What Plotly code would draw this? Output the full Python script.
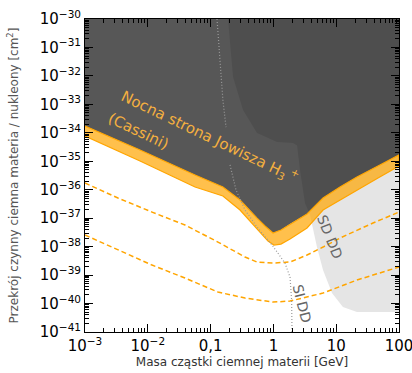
import plotly.graph_objects as go

# Jupiter night-side H3+ (Cassini) band: upper and lower edges
band_top_mass = [1e-3, 0.00752, 0.0565, 0.157, 0.294, 0.548, 0.735, 0.986, 1.32, 1.84, 3.43, 6.17, 11.5, 21.4, 46.3, 100]
band_top_sigma = [1.73e-34, 2.48e-35, 3.29e-36, 1.24e-36, 4.35e-37, 1.01e-37, 5.30e-38, 3.01e-38, 3.83e-38, 6.22e-38,
                  1.40e-37, 5.11e-37, 1.24e-36, 2.79e-36, 6.81e-36, 1.66e-35]
band_bot_mass = [1e-3, 0.00752, 0.0565, 0.157, 0.294, 0.424, 0.612, 0.820, 1.02, 1.32, 1.84, 3.43, 6.17, 11.5, 21.4, 46.3, 100]
band_bot_sigma = [7.73e-35, 1.02e-35, 1.245e-36, 6.01e-37, 1.93e-37, 7.94e-38, 3.01e-38, 1.57e-38, 1.14e-38, 1.23e-38,
                  1.85e-38, 4.51e-38, 1.93e-37, 4.35e-37, 9.75e-37, 2.58e-36, 6.81e-36]

# projected (dashed) sensitivities
dash1_mass = [1e-3, 0.00335, 0.01167, 0.0391, 0.131, 0.353, 0.548, 0.986, 1.84, 3.43, 6.17, 11.5, 38.5, 100]
dash1_sigma = [1.72e-36, 5.11e-37, 1.64e-37, 5.74e-38, 1.45e-38, 4.31e-39, 2.88e-39, 2.65e-39, 2.88e-39, 5.07e-39,
               9.68e-39, 2.00e-38, 6.76e-38, 1.64e-37]
dash2_mass = [1e-3, 0.00335, 0.01167, 0.0391, 0.131, 0.353, 0.986, 1.84, 6.17, 21.4, 100]
dash2_sigma = [2.56e-38, 7.59e-39, 2.25e-39, 7.87e-40, 2.54e-40, 1.56e-40, 1.13e-40, 1.22e-40, 2.34e-40, 6.70e-40, 1.92e-39]

# SI direct detection (dotted)
si_mass = [0.1265, 0.141, 0.157, 0.176, None, 0.204, 0.254, 0.353, 0.548, 0.951, 1.53, 1.84, 1.95, 1.98]
si_sigma = [1e-30, 3.63e-32, 1.41e-33, 1.58e-34, None, 7.41e-36, 9.77e-37, 1.95e-37, 4.90e-38, 1.15e-38, 2.63e-39,
            8.51e-40, 1.32e-40, 1e-41]

# SD direct detection excluded region boundary
sd_mass = [0.189, 0.2275, 0.328, 0.548, 1.14, 2.05, 2.38, 2.65, 3.18, 3.83, 4.94, 6.17, 8.57, 12.8, 21.4, 100, 100]
sd_sigma = [1e-30, 9.12e-33, 6.31e-34, 9.77e-35, 4.79e-35, 4.37e-35, 3.55e-35, 4.90e-36, 3.39e-37, 1.29e-37, 9.77e-39,
            1.51e-39, 2.34e-40, 7.59e-41, 5.01e-41, 5.01e-41, 1e-30]

x_ticks = [1e-3, 1e-2, 0.1, 1, 10, 100]
x_ticktext = ["10<sup>−3</sup>", "10<sup>−2</sup>", "0,1", "1", "10", "100"]
y_ticks = [10.0 ** e for e in range(-41, -29)]
y_ticktext = ["10<sup>−%d</sup>" % -e for e in range(-41, -29)]

FONT = "DejaVu Sans"
fig = go.Figure()

# SD region
fig.add_trace(go.Scatter(x=sd_mass, y=sd_sigma, fill="toself", fillcolor="#e5e5e5",
                         line=dict(width=0), mode="lines", hoverinfo="skip", showlegend=False))
# excluded dark region above the band
fig.add_trace(go.Scatter(x=band_top_mass + [100, 1e-3], y=band_top_sigma + [1e-30, 1e-30], fill="toself",
                         fillcolor="rgba(0,0,0,0.66)", line=dict(width=0), mode="lines",
                         hoverinfo="skip", showlegend=False))
# orange band
fig.add_trace(go.Scatter(x=band_bot_mass + band_top_mass[::-1], y=band_bot_sigma + band_top_sigma[::-1],
                         fill="toself", fillcolor="rgba(255,165,0,0.7)",
                         line=dict(color="#ffa500", width=1.2), mode="lines", hoverinfo="skip", showlegend=False))
# dashed projections
for mx, sy in [(dash1_mass, dash1_sigma), (dash2_mass, dash2_sigma)]:
    fig.add_trace(go.Scatter(x=mx, y=sy, mode="lines", line=dict(color="#ffa500", width=1.5, dash="5px,3px"),
                             showlegend=False, hoverinfo="skip"))
# SI dotted
fig.add_trace(go.Scatter(x=si_mass, y=si_sigma, mode="lines", connectgaps=False,
                         line=dict(color="#9a9a9a", width=1.2, dash="1px,2px"), showlegend=False, hoverinfo="skip"))

ann_color = "#f4b040"
fig.add_annotation(x=-1.010, y=-34.12, xref="x", yref="y", showarrow=False, textangle=25.6,
                   text="Nocna strona Jowisza H<sub>3</sub><sup> +</sup>",
                   font=dict(family=FONT, size=15, color=ann_color))
fig.add_annotation(x=-2.156, y=-33.94, xref="x", yref="y", showarrow=False, textangle=25.6,
                   text="(Cassini)", font=dict(family=FONT, size=15, color=ann_color))
fig.add_annotation(x=0.901, y=-37.66, xref="x", yref="y", showarrow=False, textangle=68,
                   text="SD DD", font=dict(family=FONT, size=14, color="#666666"))
fig.add_annotation(x=0.455, y=-40.02, xref="x", yref="y", showarrow=False, textangle=76,
                   text="SI DD", font=dict(family=FONT, size=14, color="#666666"))

axis_common = dict(showline=True, linecolor="black", linewidth=1, mirror="allticks", ticks="inside",
                   ticklen=8, tickwidth=1, tickcolor="black", showgrid=False, zeroline=False, automargin=False,
                   ticklabeloverflow="allow",
                   tickfont=dict(family=FONT, size=15, color="black"),
                   minor=dict(ticks="inside", ticklen=4, tickwidth=0.8, tickcolor="black", dtick="D1",
                              showgrid=False))

fig.update_xaxes(type="log", range=[-3, 2], tickmode="array", tickvals=x_ticks, ticktext=x_ticktext,
                 title=dict(text="Masa cząstki ciemnej materii [GeV]", font=dict(family=FONT, size=12, color="#333"),
                            standoff=2),
                 **axis_common)
fig.update_yaxes(type="log", range=[-41, -30], tickmode="array", tickvals=y_ticks, ticktext=y_ticktext,
                 title=dict(text="Przekrój czynny ciemna materia / nukleony [cm<sup>2</sup>]",
                            font=dict(family=FONT, size=12, color="#555"), standoff=18),
                 **axis_common)

fig.update_layout(width=412, height=373, margin=dict(l=85, r=13, t=19, b=41),
                  plot_bgcolor="white", paper_bgcolor="white", font=dict(family=FONT))

fig.write_html("out.html", config={"displayModeBar": False},
               post_script="document.body.style.margin='0px';")
